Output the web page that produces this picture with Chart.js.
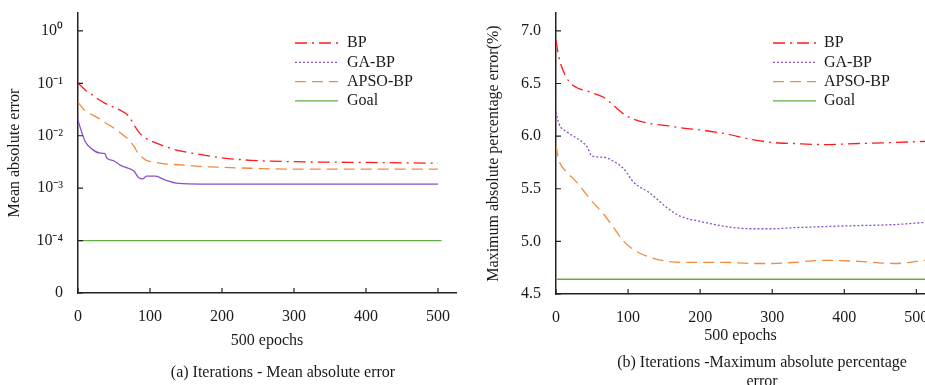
<!DOCTYPE html>
<html>
<head>
<meta charset="utf-8">
<script src="https://cdn.jsdelivr.net/npm/chart.js@4"></script>
<style>
html, body { margin: 0; padding: 0; overflow: hidden; background: #fff; }
body { width: 925px; height: 385px; position: relative; font-family: "Liberation Serif", serif; color: #1a1a1a; }
#wa { position: absolute; left: 0; top: 0; width: 460px; height: 385px; }
#wb { position: absolute; left: 460px; top: 0; width: 480px; height: 385px; }
.cap { position: absolute; font-size: 16px; line-height: 19px; text-align: center; }
</style>
</head>
<body>
<div id="wa"><canvas id="chartA"></canvas></div>
<div id="wb"><canvas id="chartB"></canvas></div>
<div class="cap" style="left:133px;top:362px;width:300px;">(a) Iterations - Mean absolute error</div>
<div class="cap" style="left:607px;top:352px;width:310px;">(b) Iterations -Maximum absolute percentage error</div>
<script>
// shared x ticks
const xTicks = [0, 100, 200, 300, 400, 500];

// (a) mean absolute error, log scale
const epochsA = [0, 2, 10, 20, 30, 37, 40, 50, 60, 70, 78, 84, 90, 95, 108, 120, 140, 170, 200, 240, 300, 400, 500];
const bpA   = [0.1, 0.095, 0.075, 0.06, 0.048, 0.042, 0.04, 0.035, 0.03, 0.024, 0.016, 0.012, 0.0098, 0.0088, 0.0073, 0.0063, 0.0052, 0.0044, 0.0038, 0.0034, 0.0032, 0.0031, 0.003];
const gaA   = [0.02, 0.016, 0.0078, 0.0055, 0.0047, 0.0046, 0.0038, 0.0033, 0.0027, 0.0024, 0.0021, 0.0016, 0.0015, 0.0017, 0.0017, 0.00145, 0.00123, 0.0012, 0.0012, 0.0012, 0.0012, 0.0012, 0.0012];
const apsoA = [0.044, 0.04, 0.03, 0.025, 0.021, 0.018, 0.017, 0.014, 0.011, 0.0085, 0.0062, 0.0045, 0.0038, 0.0034, 0.0031, 0.0029, 0.0028, 0.0026, 0.0025, 0.0024, 0.0023, 0.0023, 0.0023];
const goalEpochsA = [0, 505];
const goalA = [1e-4, 1e-4];
const yTickValsA = [1e-5, 1e-4, 1e-3, 1e-2, 1e-1, 1];
const yTickLabelsA = ['0', '10⁻⁴', '10⁻³', '10⁻²', '10⁻¹', '10⁰'];

// (b) maximum absolute percentage error
const epochsB = [0, 4, 15, 29, 43, 50, 66, 80, 94, 108, 130, 154, 172, 200, 237, 270, 300, 330, 370, 420, 470, 512];
const bpB   = [6.91, 6.75, 6.55, 6.46, 6.43, 6.41, 6.37, 6.29, 6.21, 6.16, 6.12, 6.10, 6.08, 6.06, 6.02, 5.97, 5.94, 5.93, 5.92, 5.93, 5.94, 5.95];
const gaB   = [6.23, 6.12, 6.04, 5.98, 5.90, 5.81, 5.80, 5.76, 5.69, 5.56, 5.46, 5.32, 5.24, 5.19, 5.14, 5.12, 5.12, 5.13, 5.14, 5.15, 5.16, 5.18];
const apsoB = [5.91, 5.77, 5.66, 5.56, 5.44, 5.38, 5.26, 5.13, 5.0, 4.92, 4.85, 4.81, 4.80, 4.80, 4.80, 4.79, 4.79, 4.80, 4.82, 4.81, 4.79, 4.82];
const goalEpochsB = [0, 512];
const goalB = [4.64, 4.64];
const yTickValsB = [4.5, 5.0, 5.5, 6.0, 6.5, 7.0];
const yTickLabelsB = ['4.5', '5.0', '5.5', '6.0', '6.5', '7.0'];

const RED = '#ff1a1a', PURPLE = '#8a4fc6', ORANGE = '#f28a3c', GREEN = '#62ad45';
const INK = '#1a1a1a';

Chart.defaults.font.family = '"Liberation Serif", serif';
Chart.defaults.font.size = 16;
Chart.defaults.color = INK;

function pts(xs, ys) {
  return xs.map((x, i) => ({ x: x, y: ys[i] }));
}

// short tick marks pointing into the plot
const inTicks = {
  id: 'inTicks',
  afterDraw(chart) {
    const { ctx, chartArea: a, scales: { x, y } } = chart;
    ctx.save();
    ctx.strokeStyle = '#222';
    ctx.lineWidth = 1.2;
    ctx.beginPath();
    x.ticks.forEach(t => {
      const px = x.getPixelForValue(t.value);
      ctx.moveTo(px, a.bottom); ctx.lineTo(px, a.bottom - 5);
    });
    y.ticks.forEach(t => {
      const py = y.getPixelForValue(t.value);
      ctx.moveTo(a.left, py); ctx.lineTo(a.left + 5, py);
    });
    ctx.stroke();
    ctx.restore();
  }
};

// legend drawn inside the plot, one row per dataset
const lineKey = {
  id: 'lineKey',
  afterDraw(chart, args, o) {
    const ctx = chart.ctx;
    ctx.save();
    ctx.font = '16px "Liberation Serif"';
    ctx.textBaseline = 'middle';
    chart.data.datasets.forEach((ds, i) => {
      const y = o.y + i * o.row;
      ctx.strokeStyle = ds.borderColor;
      ctx.lineWidth = ds.borderWidth;
      ctx.setLineDash(ds.keyDash || ds.borderDash || []);
      ctx.beginPath();
      ctx.moveTo(o.x, y); ctx.lineTo(o.x + o.len, y);
      ctx.stroke();
      ctx.setLineDash([]);
      ctx.fillStyle = INK;
      ctx.fillText(ds.label, o.x + o.len + o.gap, y);
    });
    ctx.restore();
  }
};

function series(label, data, color, dash, keyDash) {
  return { label, data, borderColor: color, borderWidth: 1.3, borderDash: dash, keyDash: keyDash, fill: false };
}

function buildChart(id, o) {
  return new Chart(document.getElementById(id), {
    type: 'line',
    data: { datasets: o.datasets },
    options: {
      responsive: true,
      maintainAspectRatio: false,
      animation: false,
      layout: { padding: o.pad },
      elements: { point: { radius: 0 }, line: { cubicInterpolationMode: 'monotone' } },
      plugins: { legend: { display: false }, tooltip: { enabled: false }, lineKey: o.key },
      scales: {
        x: {
          type: 'linear', min: 0, max: o.xMax,
          grid: { display: false, drawTicks: false },
          border: { color: '#222', width: 1.5 },
          ticks: { padding: 14, maxRotation: 0, autoSkip: false, callback: v => String(v) },
          afterBuildTicks: s => { s.ticks = xTicks.map(v => ({ value: v })); },
          afterFit: s => { s.height = o.xH; s.paddingLeft = 0; s.paddingRight = 0; },
          title: { display: true, text: '500 epochs', padding: { top: 0, bottom: o.xTitlePad } }
        },
        y: {
          type: o.yType, min: o.yMin, max: o.yMax,
          grid: { display: false, drawTicks: false },
          border: { color: '#222', width: 1.5 },
          ticks: { padding: 15, autoSkip: false, callback: (v, i) => o.yLabels[i] },
          afterBuildTicks: s => { s.ticks = o.yVals.map(v => ({ value: v })); },
          afterFit: s => { s.width = o.yW; s.paddingTop = 0; s.paddingBottom = 0; },
          title: { display: true, text: o.yTitle, padding: { top: o.yTitlePad, bottom: 0 } }
        }
      }
    },
    plugins: [inTicks, lineKey]
  });
}

buildChart('chartA', {
  datasets: [
    series('BP', pts(epochsA, bpA), RED, [12, 5, 2, 5]),
    series('GA-BP', pts(epochsA, gaA), PURPLE, [], [2, 2]),
    series('APSO-BP', pts(epochsA, apsoA), ORANGE, [11, 6]),
    series('Goal', pts(goalEpochsA, goalA), GREEN, [])
  ],
  pad: { top: 13, right: 4, left: 0, bottom: 0 },
  xMax: 525, xH: 92, xTitlePad: 35,
  yType: 'logarithmic', yMin: 1e-5, yMax: 2.2,
  yVals: yTickValsA, yLabels: yTickLabelsA, yW: 78,
  yTitle: 'Mean absolute error', yTitlePad: 5,
  key: { x: 295, y: 43, row: 19.3, len: 43, gap: 9 }
});

buildChart('chartB', {
  datasets: [
    series('BP', pts(epochsB, bpB), RED, [12, 5, 2, 5]),
    series('GA-BP', pts(epochsB, gaB), PURPLE, [2, 2]),
    series('APSO-BP', pts(epochsB, apsoB), ORANGE, [11, 6]),
    series('Goal', pts(goalEpochsB, goalB), GREEN, [])
  ],
  pad: { top: 13, right: 15, left: 0, bottom: 0 },
  xMax: 512, xH: 91, xTitlePad: 40,
  yType: 'linear', yMin: 4.5, yMax: 7.17,
  yVals: yTickValsB, yLabels: yTickLabelsB, yW: 96,
  yTitle: 'Maximum absolute percentage error(%)', yTitlePad: 24,
  key: { x: 313, y: 43, row: 19.3, len: 43, gap: 8 }
});
</script>
</body>
</html>
